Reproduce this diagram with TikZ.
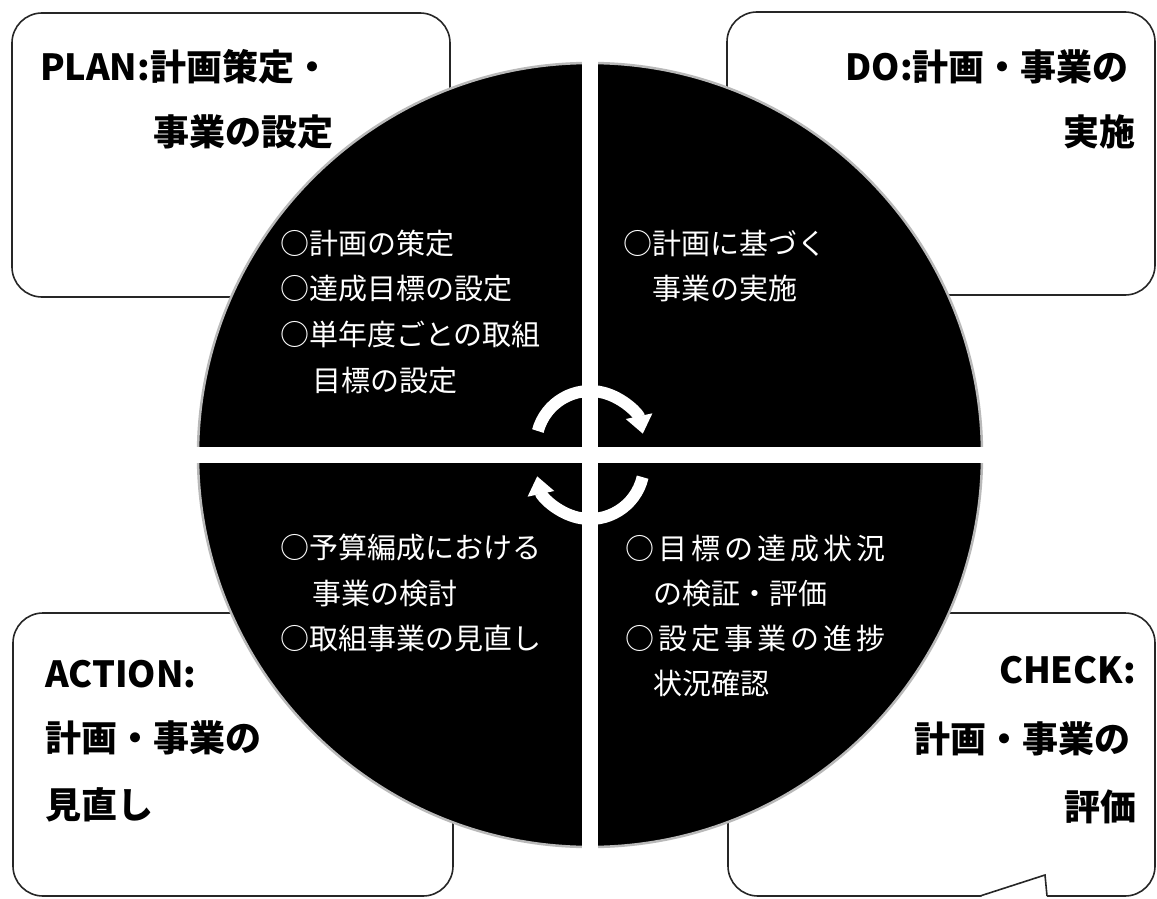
\documentclass[tikz,border=0pt]{standalone}
\usepackage{fontspec}
\newfontfamily\jp{Noto Sans CJK JP}
\usetikzlibrary{arrows.meta}
\tikzset{
  box/.style={draw=black!85, line width=1.6pt, fill=white, rounded corners=30pt},
  wt/.style={text=white, font=\jp\fontsize{29}{29}\selectfont, inner sep=0pt, text height=25.5pt, text depth=3.5pt, anchor=west},
  wtw/.style={wt, font=\jp\fontsize{29}{29}\selectfont\addfontfeature{LetterSpace=14}},
  hd/.style={text=black, font=\jp\bfseries\fontsize{36}{36}\selectfont, inner sep=0pt, text height=31.7pt, text depth=4.3pt},
  cyc/.style={draw=white, line width=12pt, -{Triangle[width=26pt,length=18pt]}}
}
\begin{document}
\begin{tikzpicture}[x=1pt,y=-1pt]
\useasboundingbox (0,0) rectangle (1157,899);
% corner boxes
\draw[box] (12,13) rectangle (450,297);
\draw[box] (727,12) rectangle (1155,295);
\draw[box] (13,613) rectangle (453,896);
\draw[box] (728,613) rectangle (1155,896);
% notch at bottom of CHECK box
\draw[white, line width=3pt] (982,896) -- (1045,896);
\fill[white] (980,897) -- (1045,875) -- (1047,897) -- cycle;
\draw[black!85, line width=1.6pt] (980,896) -- (1045,875) -- (1047,896);
% circle
\fill[black] (590,455) circle (392);
\draw[gray!55, line width=2.5pt] (590,455) circle (392);
% white cross
\fill[white] (582,55) rectangle (598,856);
\fill[white] (190,447) rectangle (990,463);
% cycle arrows
\draw[cyc] (590,445) ++(-165:54) arc[start angle=-165, end angle=-12, radius=54];
\draw[cyc] (590,465) ++(13:54) arc[start angle=13, end angle=168, radius=54];
% PLAN
\node[hd, anchor=west] (plan1) at (40,67) {PLAN:計画策定・};
\node[hd, anchor=west] (plan2) at (153,132) {事業の設定};
% DO
\node[hd, anchor=east] (do1) at (1129,67) {DO:計画・事業の};
\node[hd, anchor=east] (do2) at (1136,132) {実施};
% ACTION
\node[hd, anchor=west] (act1) at (45,674) {ACTION:};
\node[hd, anchor=west] (act2) at (45,738) {計画・事業の};
\node[hd, anchor=west] (act3) at (45,805) {見直し};
% CHECK
\node[hd, anchor=east] (chk1) at (1136,670) {CHECK:};
\node[hd, anchor=east] (chk2) at (1131,739) {計画・事業の};
\node[hd, anchor=east] (chk3) at (1137,807) {評価};
% quadrant texts
\node[wt] (p1) at (280,243) {○計画の策定};
\node[wt] (p2) at (280,288) {○達成目標の設定};
\node[wt] (p3) at (280,334) {○単年度ごとの取組};
\node[wt] (p4) at (312,380) {目標の設定};
\node[wt] (d1) at (623,243) {○計画に基づく};
\node[wt] (d2) at (652,288) {事業の実施};
\node[wt] (a1) at (280,547) {○予算編成における};
\node[wt] (a2) at (312,593) {事業の検討};
\node[wt] (a3) at (280,638) {○取組事業の見直し};
\node[wtw] (c1) at (625,548) {○目標の達成状況};
\node[wt] (c2) at (653,593) {の検証・評価};
\node[wtw] (c3) at (625,638) {○設定事業の進捗};
\node[wt] (c4) at (653,683) {状況確認};
\end{tikzpicture}
\end{document}
